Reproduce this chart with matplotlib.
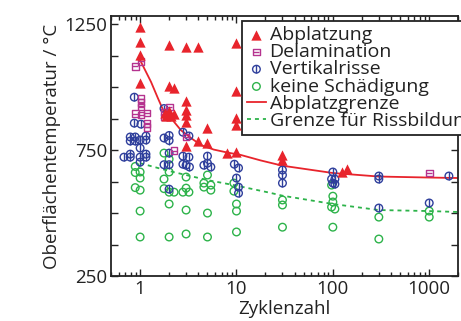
import matplotlib
matplotlib.use("Agg")
import matplotlib.pyplot as plt
from matplotlib.ticker import FixedLocator, NullFormatter, LogLocator
from matplotlib.legend_handler import HandlerTuple

plt.rcParams['font.family'] = ['Open Sans', 'DejaVu Sans']

# Abplatzung (spallation)
abpl_n = [1, 1, 1, 1, 2, 2.0, 2.25, 1.8, 2.0, 2.25, 1.85, 2.1,
          3, 3, 3, 3, 3, 3, 4, 4, 5, 5, 8, 10, 10, 10, 10, 10, 30, 30, 125, 140]
abpl_t = [1240, 1180, 1127, 1016, 1167, 1004, 996, 897, 905, 893, 885, 885,
          1159, 944, 909, 889, 861, 766, 1159, 786, 837, 778, 740, 1175, 984, 879, 851, 742, 730, 712, 665, 675]

# Delamination
delam_n = [0.89, 1.02, 1.02, 1.02, 1.02, 0.89, 1.02, 1.18, 1.18, 1.18,
           2.0, 1.77, 1.77, 2.25, 3.0, 1000]
delam_t = [1083, 1103, 954, 938, 921, 895, 889, 897, 857, 841,
           921, 901, 881, 748, 802, 659]

# Vertikalrisse (vertical cracks)
vert_n = [0.87, 0.87, 1.02, 0.79, 0.89, 0.79, 0.89, 1.0, 1.15, 1.15, 1.0,
          0.68, 0.79, 0.79, 1.0, 1.15, 1.15, 1.0,
          1.77, 1.77, 2.0, 2.0, 1.77, 2.0, 2.0, 2.0,
          2.78, 3.21, 2.78, 3.21, 2.78, 3.0, 3.25,
          5.0, 4.59, 5.0, 5.42,
          9.5, 10.5, 10, 10.5, 10.5,
          30, 30, 30, 100, 97, 105, 100, 105,
          300, 300, 300, 1000, 1600]
vert_t = [960, 857, 853, 802, 802, 786, 786, 790, 806, 790, 758,
          722, 734, 722, 722, 734, 722, 702,
          915, 798, 808, 788, 692, 692, 738, 595,
          821, 806, 726, 722, 694, 690, 683,
          726, 690, 698, 683,
          694, 679, 639, 603, 579,
          671, 651, 619, 663, 635, 635, 619, 615,
          647, 635, 520, 540, 647]

# keine Schädigung (no damage)
kein_n = [0.89, 0.89, 1.0, 1.0, 0.89, 1.0, 1.0, 1.0,
          1.77, 2.0, 2.0, 1.77, 1.77, 2.0, 2.25, 2.0, 2.0,
          3.0, 2.78, 3.0, 3.21, 3.0, 3.0,
          5.0, 4.59, 4.59, 5.42, 5.42, 5.0, 5.0,
          9.4, 9.4, 10, 10, 10,
          30, 30, 30,
          97, 100, 100, 97, 105, 100,
          300, 300, 1000, 1000]
kein_t = [685, 661, 663, 639, 601, 591, 508, 405,
          738, 714, 663, 635, 597, 583, 583, 536, 405,
          643, 583, 599, 583, 512, 417,
          651, 619, 603, 611, 591, 500, 405,
          619, 587, 536, 508, 425,
          552, 532, 444,
          611, 567, 544, 524, 516, 444,
          484, 397, 508, 484]

# Abplatzgrenze (spallation limit)
grenze_abpl_n = [1.0, 1.3, 1.53, 1.77, 2.09, 2.65, 3.37, 4.27, 5.81, 8.1, 11.0,
                 14, 17.8, 30, 100, 300, 1000, 2100]
grenze_abpl_t = [1107, 1020, 956, 901, 877, 829, 798, 770, 752, 740, 731,
                 720, 709, 688, 659, 645, 641, 639]

# Grenze für Rissbildung (crack formation limit)
grenze_riss_n = [1.0, 2.0, 3.0, 5.0, 10, 22, 30, 100, 300, 1000, 2100]
grenze_riss_t = [698, 667, 651, 631, 609, 581, 569, 536, 512, 508, 504]

RED = '#e8242c'
MAG = '#b5338f'
BLUE = '#2f3f9c'
GREEN = '#2db34a'
INK = '#222222'

fig = plt.figure(figsize=(4.61, 3.21), dpi=100)
ax = fig.add_axes([0.241, 0.140, 0.753, 0.810])

ax.plot(grenze_abpl_n, grenze_abpl_t, color=RED, lw=1.3, zorder=2)
ax.plot(grenze_riss_n, grenze_riss_t, color=GREEN, lw=1.3, ls=(0, (2.2, 2.2)), zorder=2)

h_gr = ax.scatter(kein_n, kein_t, marker='o', s=30, facecolors='none',
                  edgecolors=GREEN, linewidths=1.0, zorder=3)
h_v1 = ax.scatter(vert_n, vert_t, marker='o', s=30, facecolors='none',
                  edgecolors=BLUE, linewidths=1.0, zorder=4)
h_v2 = ax.scatter(vert_n, vert_t, marker='|', s=30, color=BLUE,
                  linewidths=1.0, zorder=4)
h_d1 = ax.scatter(delam_n, delam_t, marker='s', s=24, facecolors='none',
                  edgecolors=MAG, linewidths=1.0, zorder=5)
h_d2 = ax.scatter(delam_n, delam_t, marker='_', s=24, color=MAG,
                  linewidths=1.0, zorder=5)
h_tr = ax.scatter(abpl_n, abpl_t, marker='^', s=55, color=RED,
                  linewidths=0, zorder=6)

ax.set_xscale('log')
ax.set_xlim(0.5, 2000)
ax.set_ylim(250, 1282)

ax.set_yticks([250, 750, 1250])
ax.yaxis.set_minor_locator(FixedLocator([375, 500, 625, 875, 1000, 1125]))
ax.set_xticks([1, 10, 100, 1000])
ax.set_xticklabels(['1', '10', '100', '1000'])
ax.xaxis.set_minor_locator(LogLocator(base=10, subs=range(2, 10), numticks=20))
ax.xaxis.set_minor_formatter(NullFormatter())

ax.tick_params(which='both', direction='in', top=True, right=True,
               labelsize=13.5, width=1.0, color=INK, labelcolor=INK)
ax.tick_params(which='major', length=5, pad=3)
ax.tick_params(which='minor', length=3)
ax.tick_params(axis='y', which='minor', length=5)
for sp in ax.spines.values():
    sp.set_linewidth(1.3)
    sp.set_color(INK)

ax.set_xlabel('Zyklenzahl', fontsize=13.5, color=INK, labelpad=1)
ax.set_ylabel('Oberflächentemperatur / °C', fontsize=13.5, color=INK, labelpad=2)

line_abpl, = ax.plot([], [], color=RED, lw=1.3)
line_riss, = ax.plot([], [], color=GREEN, lw=1.3, ls=(0, (2.2, 2.2)))
leg = ax.legend([h_tr, (h_d1, h_d2), (h_v1, h_v2), h_gr, line_abpl, line_riss],
                ['Abplatzung', 'Delamination', 'Vertikalrisse', 'keine Schädigung',
                 'Abplatzgrenze', 'Grenze für Rissbildung'],
                handler_map={tuple: HandlerTuple(ndivide=1, pad=0)},
                loc='upper left', bbox_to_anchor=(0.378, 0.981),
                fontsize=14, handlelength=0.95, handletextpad=0.2,
                labelspacing=-0.04, borderpad=0.25, borderaxespad=0,
                fancybox=False, framealpha=1, edgecolor=INK, scatterpoints=1)
leg.get_frame().set_linewidth(1.3)
for t in leg.get_texts():
    t.set_color(INK)

fig.savefig('out.png', dpi=100)
